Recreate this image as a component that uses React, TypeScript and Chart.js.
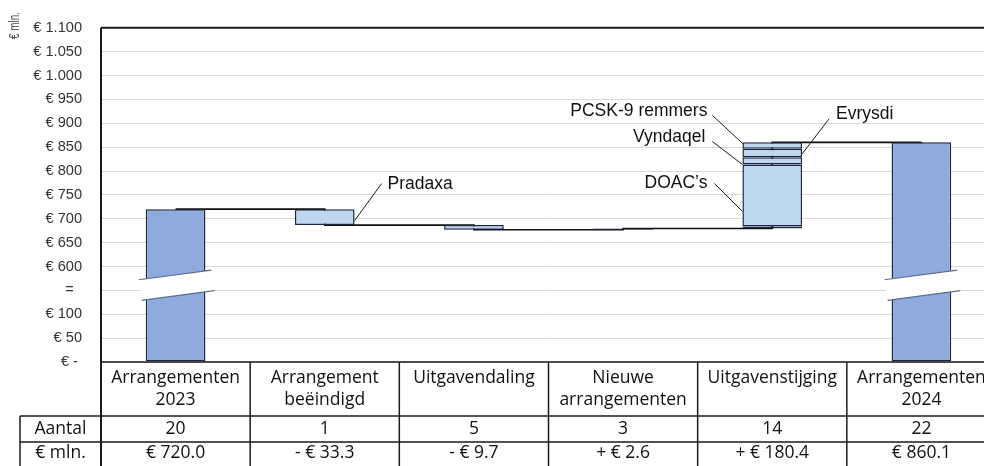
import React, { useEffect, useRef } from "react";
import { Chart, registerables } from "chart.js";

Chart.register(...registerables);

// ---------- data ----------
const categories: string[][] = [
  ["Arrangementen", "2023"],
  ["Arrangement", "beëindigd"],
  ["Uitgavendaling"],
  ["Nieuwe", "arrangementen"],
  ["Uitgavenstijging"],
  ["Arrangementen", "2024"],
];
const aantallen = [20, 1, 5, 3, 14, 22];
// first and last are totals, the rest are changes (€ mln.)
const mutaties = [720.0, -33.3, -9.7, 2.6, 180.4, 860.1];
const mutatieLabels = ["€ 720.0", "- € 33.3", "- € 9.7", "+ € 2.6", "+ € 180.4", "€ 860.1"];
// composition of the "Uitgavenstijging" bar, bottom to top
const stijgingNamen = ["Overig", "DOAC’s", "Vyndaqel", "Evrysdi", "PCSK-9 remmers"];
const stijgingWaarden = [4.4, 129.6, 15.4, 17.8, 13.2];
const yTickLabels = [
  "€ -", "€ 50", "€ 100", "=", "€ 600", "€ 650", "€ 700", "€ 750",
  "€ 800", "€ 850", "€ 900", "€ 950", "€ 1.000", "€ 1.050", "€ 1.100",
];

// broken axis: values between breakStart and breakEnd are collapsed
const breakStart = 150;
const breakEnd = 550;
const toAxis = (v: number) =>
  v <= breakStart ? v : v >= breakEnd ? v - (breakEnd - breakStart) : breakStart;

// ---------- derived ----------
const n = categories.length;
const starts: number[] = [];
const ends: number[] = [];
{
  let run = 0;
  mutaties.forEach((m, i) => {
    if (i === 0 || i === n - 1) {
      starts.push(0);
      ends.push(m);
      run = m;
    } else {
      starts.push(run);
      run = run + m;
      ends.push(run);
    }
  });
}
const stijgIdx = 4;

const BAR_DARK = "#8FAADC";
const BAR_LIGHT = "#BDD7EE";
const EDGE = "#1c2640";

const overlayPlugin = {
  id: "overlay",
  afterDatasetsDraw(chart: any) {
    const ctx = chart.ctx;
    const ys = chart.scales.y;
    // axis-break bands over the total bars
    const tot = chart.getDatasetMeta(0);
    [0, n - 1].forEach((i) => {
      const el = tot.data[i];
      const cx = el.x;
      const hw = el.width / 2;
      const yc = ys.getPixelForValue(breakStart) - 5;
      const s = -9.7 / 73;
      const up = (x: number) => yc - 10.5 + (x - cx) * s;
      const lo = (x: number) => yc + 10.5 + (x - cx) * s;
      const ua = cx - hw - 7, ub = cx + hw + 6, la = cx - hw - 4, lb = cx + hw + 9;
      ctx.save();
      ctx.beginPath();
      ctx.moveTo(ua, up(ua));
      ctx.lineTo(ub, up(ub));
      ctx.lineTo(lb, lo(lb));
      ctx.lineTo(la, lo(la));
      ctx.closePath();
      ctx.fillStyle = "#ffffff";
      ctx.fill();
      ctx.strokeStyle = "#5b6d8f";
      ctx.lineWidth = 1.2;
      ctx.beginPath();
      ctx.moveTo(ua, up(ua));
      ctx.lineTo(ub, up(ub));
      ctx.stroke();
      ctx.beginPath();
      ctx.moveTo(la, lo(la));
      ctx.lineTo(lb, lo(lb));
      ctx.stroke();
      ctx.restore();
    });

    // annotations with leader lines
    const box = (el: any) => ({
      left: el.x - el.width / 2,
      right: el.x + el.width / 2,
      top: Math.min(el.y, el.base),
      bottom: Math.max(el.y, el.base),
    });
    const anns = [
      { text: "Pradaxa", ds: 1, idx: 1, side: "right", ay: (b: any) => b.bottom - 4.5, dx: 27, dy: -37, tdx: 6, tdy: 1 },
      { text: "DOAC’s", ds: 3, idx: stijgIdx, side: "left", ay: (b: any) => b.bottom - 15, dx: -28, dy: -28, tdx: -7, tdy: 0 },
      { text: "Vyndaqel", ds: 4, idx: stijgIdx, side: "left", ay: (b: any) => b.bottom, dx: -30, dy: -23, tdx: -7, tdy: -4 },
      { text: "Evrysdi", ds: 5, idx: stijgIdx, side: "right", ay: (b: any) => (b.top + b.bottom) / 2 + 1, dx: 27, dy: -35, tdx: 7, tdy: -5 },
      { text: "PCSK-9 remmers", ds: 6, idx: stijgIdx, side: "left", ay: (b: any) => b.top + 1, dx: -30, dy: -28, tdx: -5, tdy: -4 },
    ];
    ctx.save();
    ctx.strokeStyle = "#1a1a1a";
    ctx.lineWidth = 1;
    ctx.fillStyle = "#111111";
    ctx.font = '17.5px "Liberation Sans"';
    ctx.textBaseline = "middle";
    anns.forEach((a) => {
      const b = box(chart.getDatasetMeta(a.ds).data[a.idx]);
      const ex = a.side === "right" ? b.right : b.left;
      const ey = a.ay(b);
      const sx = ex + a.dx;
      const sy = ey + a.dy;
      ctx.beginPath();
      ctx.moveTo(ex, ey);
      ctx.lineTo(sx, sy);
      ctx.stroke();
      ctx.textAlign = a.side === "right" ? "left" : "right";
      ctx.fillText(a.text, sx + a.tdx, sy + a.tdy);
    });
    ctx.restore();
  },
  afterDraw(chart: any) {
    const ctx = chart.ctx;
    const a = chart.chartArea;
    const W = chart.width;
    const H = chart.height;
    const cw = (a.right - a.left) / n;
    const headH = 54;
    const rowH = 26;
    const labelLeft = 20;
    const r1 = a.bottom + headH;
    const r2 = r1 + rowH;
    const L = (x1: number, y1: number, x2: number, y2: number) => {
      ctx.beginPath();
      ctx.moveTo(x1, y1);
      ctx.lineTo(x2, y2);
      ctx.stroke();
    };
    ctx.save();
    ctx.strokeStyle = "#1a1a1a";
    ctx.lineWidth = 2;
    L(a.left, a.top, W, a.top);
    L(a.left, a.top, a.left, H);
    ctx.lineWidth = 1.5;
    L(a.left, a.bottom, W, a.bottom);
    L(labelLeft, r1, W, r1);
    L(labelLeft, r2, W, r2);
    L(labelLeft, r1, labelLeft, H);
    for (let i = 1; i <= n; i++) L(a.left + i * cw, a.bottom, a.left + i * cw, H);

    ctx.fillStyle = "#111111";
    ctx.font = '17.5px "Open Sans"';
    ctx.textAlign = "center";
    ctx.textBaseline = "middle";
    categories.forEach((lines, i) => {
      const cx = a.left + (i + 0.5) * cw;
      lines.forEach((t, j) => ctx.fillText(t, cx, a.bottom + 16 + j * 22));
      ctx.fillText(String(aantallen[i]), cx, r1 + 13);
      ctx.fillText(mutatieLabels[i], cx, r2 + 11);
    });
    const lc = (labelLeft + a.left) / 2;
    ctx.fillText("Aantal", lc, r1 + 13);
    ctx.fillText("€ mln.", lc, r2 + 11);

    // y-axis title
    ctx.translate(15, 12);
    ctx.rotate(-Math.PI / 2);
    ctx.scale(0.66, 1);
    ctx.textAlign = "right";
    ctx.font = '15px "Liberation Sans"';
    ctx.fillStyle = "#404040";
    ctx.fillText("€ mln.", 0, 0);
    ctx.restore();
  },
};

export default function App() {
  const ref = useRef<HTMLCanvasElement>(null);
  useEffect(() => {
    const canvas = ref.current;
    if (!canvas) return;
    const barCommon = {
      borderColor: EDGE,
      borderWidth: 1.5,
      borderSkipped: false,
      grouped: false,
      barPercentage: 0.4,
      categoryPercentage: 1,
      order: 1,
    };
    const totalData = categories.map((_, i) =>
      i === 0 || i === n - 1 ? [toAxis(starts[i]), toAxis(ends[i])] : null
    );
    const mutData = categories.map((_, i) =>
      i > 0 && i < n - 1 && i !== stijgIdx ? [toAxis(starts[i]), toAxis(ends[i])] : null
    );
    const segDatasets: any[] = [];
    let base = starts[stijgIdx];
    stijgingNamen.forEach((name, k) => {
      const lo = base;
      const hi = base + stijgingWaarden[k];
      base = hi;
      segDatasets.push({
        type: "bar",
        label: name,
        data: categories.map((_, i) => (i === stijgIdx ? [toAxis(lo), toAxis(hi)] : null)),
        backgroundColor: BAR_LIGHT,
        ...barCommon,
      });
    });

    const chart = new Chart(canvas, {
      type: "bar",
      data: {
        labels: categories.map((c) => c.join(" ")),
        datasets: [
          {
            type: "bar",
            label: "Totaal",
            data: totalData as any,
            backgroundColor: BAR_DARK,
            ...barCommon,
          } as any,
          {
            type: "bar",
            label: "Mutatie",
            data: mutData as any,
            backgroundColor: BAR_LIGHT,
            ...barCommon,
          } as any,
          ...segDatasets,
          {
            type: "line",
            label: "Verbinding",
            data: ends.map(toAxis),
            borderColor: "#111111",
            borderWidth: 1.7,
            pointRadius: 0,
            stepped: "before",
            fill: false,
            order: 10,
          } as any,
        ],
      },
      options: {
        animation: false,
        responsive: false,
        devicePixelRatio: 1,
        layout: { padding: { left: 0, top: 19, right: 4, bottom: 104 } },
        plugins: {
          legend: { display: false },
          tooltip: { enabled: false },
        },
        scales: {
          x: {
            type: "category",
            display: false,
            offset: true,
          },
          y: {
            type: "linear",
            min: 0,
            max: 700,
            afterFit: (s: any) => {
              s.width = 101;
            },
            grid: { color: "#d9d9d9", lineWidth: 1, drawTicks: false },
            border: { display: false },
            ticks: {
              stepSize: 50,
              autoSkip: false,
              padding: 19,
              color: "#333333",
              font: { family: "Liberation Sans", size: 14.6 },
              callback: (v: any) => {
                const idx = Math.round(Number(v) / 50);
                const lab = yTickLabels[idx] ?? "";
                if (lab === "€ -") return lab + " ";
                if (lab === "=") return lab + "  ";
                return lab;
              },
            },
          },
        },
      },
      plugins: [overlayPlugin],
    });
    return () => chart.destroy();
  }, []);

  return (
    <div
      style={{
        position: "fixed",
        left: 0,
        top: 0,
        width: 984,
        height: 466,
        overflow: "hidden",
        background: "#ffffff",
      }}
    >
      <canvas ref={ref} width={1000} height={466} style={{ display: "block", width: 1000, height: 466 }} />
    </div>
  );
}
